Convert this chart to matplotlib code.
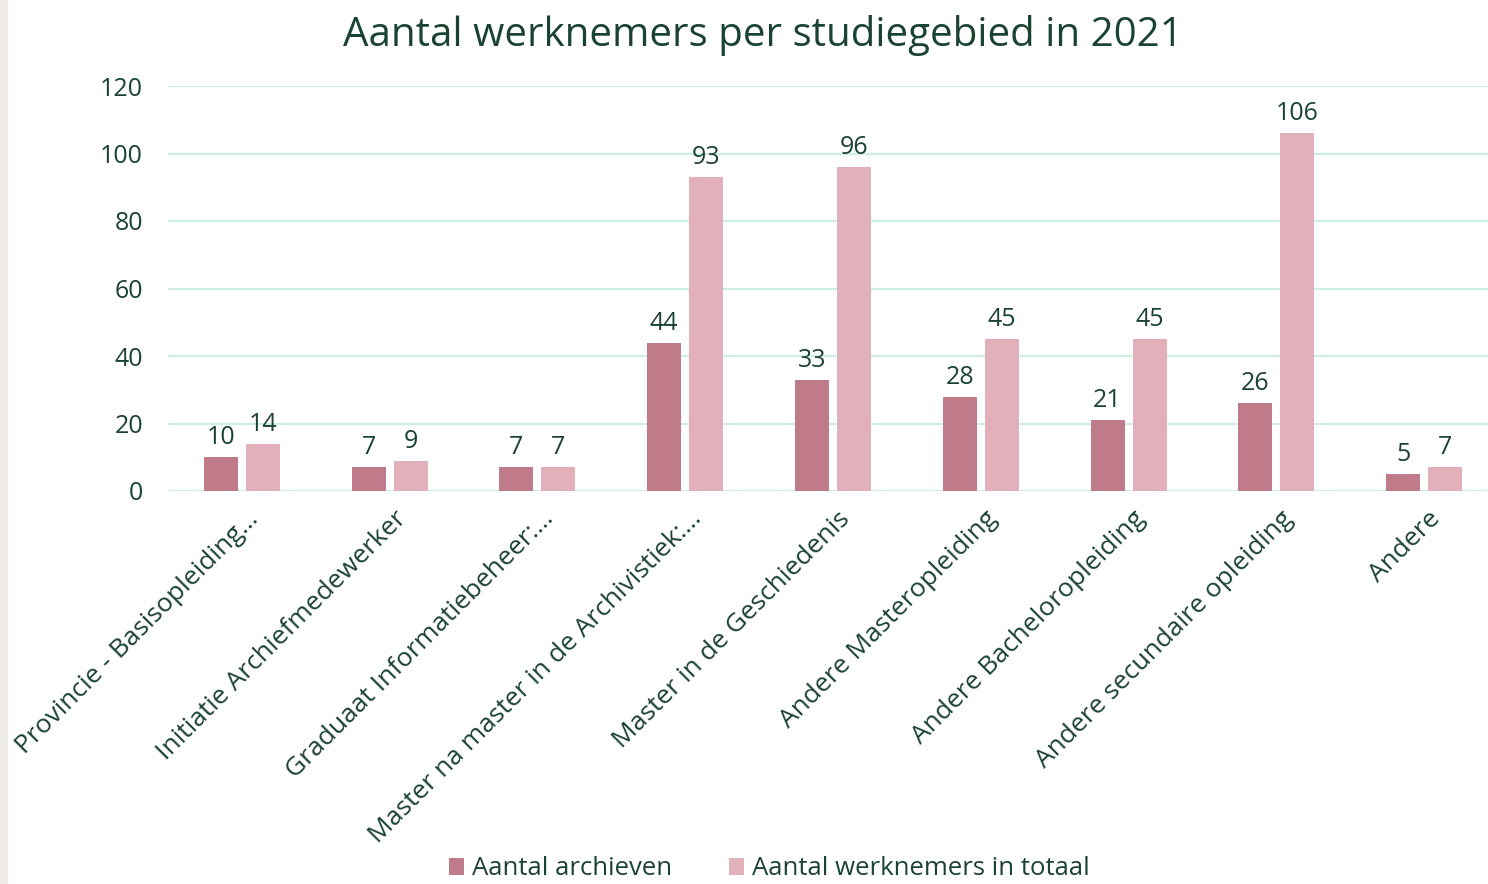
import matplotlib.pyplot as plt
import matplotlib.transforms as mtransforms
import numpy as np

# data
categories = ["Provincie - Basisopleiding…", "Initiatie Archiefmedewerker",
              "Graduaat Informatiebeheer:…", "Master na master in de Archivistiek:…",
              "Master in de Geschiedenis", "Andere Masteropleiding",
              "Andere Bacheloropleiding", "Andere secundaire opleiding", "Andere"]
archieven = [10, 7, 7, 44, 33, 28, 21, 26, 5]
werknemers = [14, 9, 7, 93, 96, 45, 45, 106, 7]
series_names = ["Aantal archieven", "Aantal werknemers in totaal"]

text_col = "#1B4332"
col_dark = "#C07B8A"
col_light = "#E2B0BA"
grid_col = "#CDEFE0"

plt.rcParams['font.family'] = ['Open Sans', 'DejaVu Sans']

fig = plt.figure(figsize=(14.88, 8.84), dpi=100)
# grey strip on the left
fig.patches.append(plt.Rectangle((0, 0), 7 / 1488, 1, transform=fig.transFigure,
                                 color="#ECEBE6", zorder=0))
ax = fig.add_axes([168 / 1488, 1 - 491 / 884, 1330 / 1488, 405 / 884])

x = np.arange(len(categories))
w = 0.23
off = 0.142
b1 = ax.bar(x - off, archieven, w, color=col_dark, label=series_names[0], zorder=3)
b2 = ax.bar(x + off, werknemers, w, color=col_light, label=series_names[1], zorder=3)

for bars in (b1, b2):
    for r in bars:
        ax.annotate(str(int(r.get_height())), (r.get_x() + r.get_width() / 2, r.get_height()),
                    xytext=(0, 5), textcoords="offset points", ha="center", va="bottom",
                    fontsize=18, color=text_col)

ax.set_xlim(-0.5, len(categories) - 0.5)
ax.set_ylim(0, 120)
ax.set_yticks(range(0, 121, 20))
ax.yaxis.grid(True, color=grid_col, linewidth=1.5, zorder=0)
ax.tick_params(axis="y", length=0, pad=18, labelsize=18, labelcolor=text_col)
ax.tick_params(axis="x", length=0, pad=4)
for s in ax.spines.values():
    s.set_visible(False)

ax.set_xticks(x)
ax.set_xticklabels(categories, rotation=45, ha="right", rotation_mode="anchor",
                   fontsize=19, color=text_col)
shift = mtransforms.ScaledTranslation(0.04, -0.1, fig.dpi_scale_trans)
for lbl in ax.get_xticklabels():
    lbl.set_transform(lbl.get_transform() + shift)

fig.text(0.513, 0.96, "Aantal werknemers per studiegebied in 2021", ha="center", va="center",
         fontsize=29, color=text_col)

fig.legend(handles=[b1, b2], loc="center", bbox_to_anchor=(0.517, 0.017), ncol=2, frameon=False,
           fontsize=18.5, labelcolor=text_col, handlelength=0.6, handleheight=0.6,
           handletextpad=0.3, columnspacing=2.2, borderpad=0.1)

fig.savefig("out.png", dpi=100)
